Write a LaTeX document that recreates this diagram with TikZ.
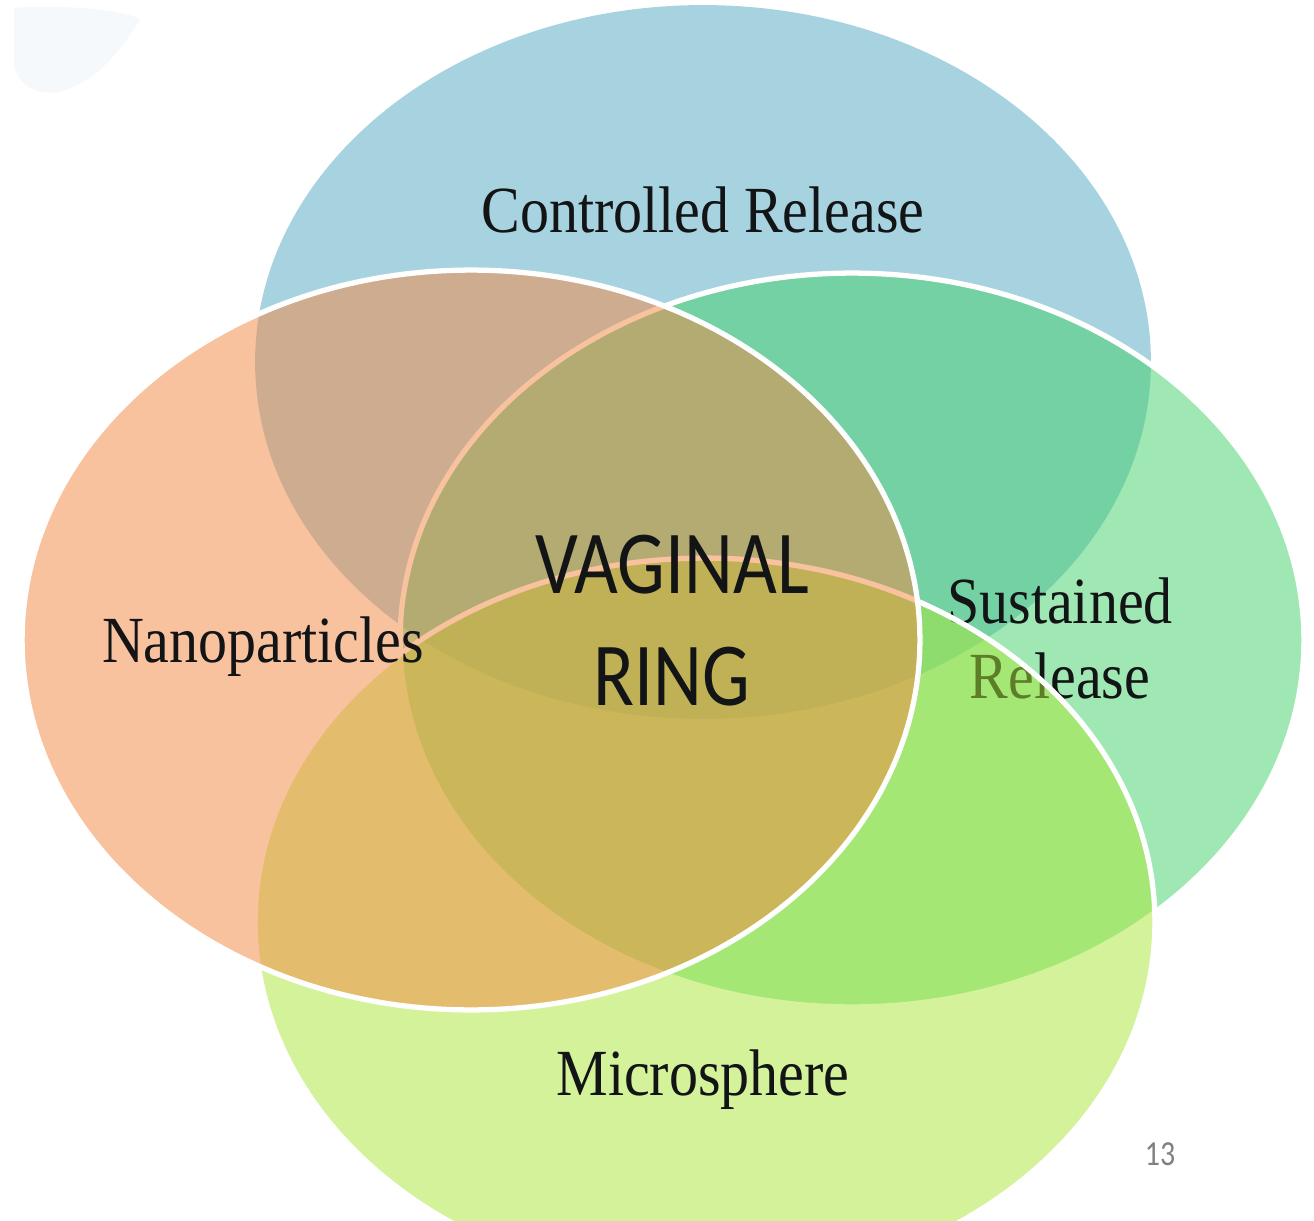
\documentclass[tikz,border=0pt]{standalone}
\usepackage{fontspec}
\setmainfont{Liberation Serif}
\newfontfamily\calibri{Carlito}
\definecolor{cblue}{RGB}{81,169,197}
\definecolor{cgreen}{RGB}{65,209,105}
\definecolor{cmicro}{RGB}{169,231,55}
\definecolor{corange}{RGB}{245,135,65}
\definecolor{cwater}{RGB}{236,242,248}
\definecolor{ctext}{RGB}{18,20,22}
\begin{document}
\begin{tikzpicture}[x=0.02cm,y=-0.02cm,
  blob/.style={fill opacity=0.5},
  rim/.style={draw=white,line width=3pt},
  lbl/.style={font=\fontsize{37.5}{42.7}\selectfont, text=ctext, inner sep=0pt, anchor=base, xscale=0.88},
  biglbl/.style={font=\calibri\fontsize{51.2}{63.7}\selectfont, text=ctext, inner sep=0pt, anchor=base, xscale=0.84}]
\useasboundingbox (0,0) rectangle (1314,1220);
\clip (0,0) rectangle (1314,1220);
\fill[white] (0,0) rectangle (1314,1220);
% faint watermark
\fill[cwater, opacity=0.45] (14,8) .. controls (60,4) and (130,10) .. (140,20) .. controls (120,50) and (100,80) .. (60,92) .. controls (30,96) and (14,80) .. (14,60) -- cycle;
% Controlled Release
\fill[cblue, blob] (703,362) ellipse [x radius=8.96cm, y radius=7.14cm];
\node[lbl] (cr) at (703,232) {Controlled Release};
% Sustained Release
\filldraw[cgreen, blob, rim] (852,640) ellipse [x radius=9.04cm, y radius=7.34cm];
\node[lbl] (sr1) at (1060,623) {Sustained};
\node[lbl] (sr2) at (1060,698) {Release};
% Microsphere
\filldraw[cmicro, blob, rim] (705,922) ellipse [x radius=9.0cm, y radius=7.28cm];
\node[lbl] (ms) at (703,1095) {Microsphere};
% Nanoparticles
\filldraw[corange, blob, rim] (471,640) ellipse [x radius=8.98cm, y radius=7.40cm];
\node[lbl] (np) at (263,662) {Nanoparticles};
% center
\node[biglbl] (vr1) at (672,593) {VAGINAL};
\node[biglbl] (vr2) at (672,705) {RING};
% slide number
\node[font=\calibri\fontsize{20}{22}\selectfont, text=black!50, inner sep=0pt, anchor=base, xscale=0.85] (num) at (1160,1165) {13};
\end{tikzpicture}
\end{document}
